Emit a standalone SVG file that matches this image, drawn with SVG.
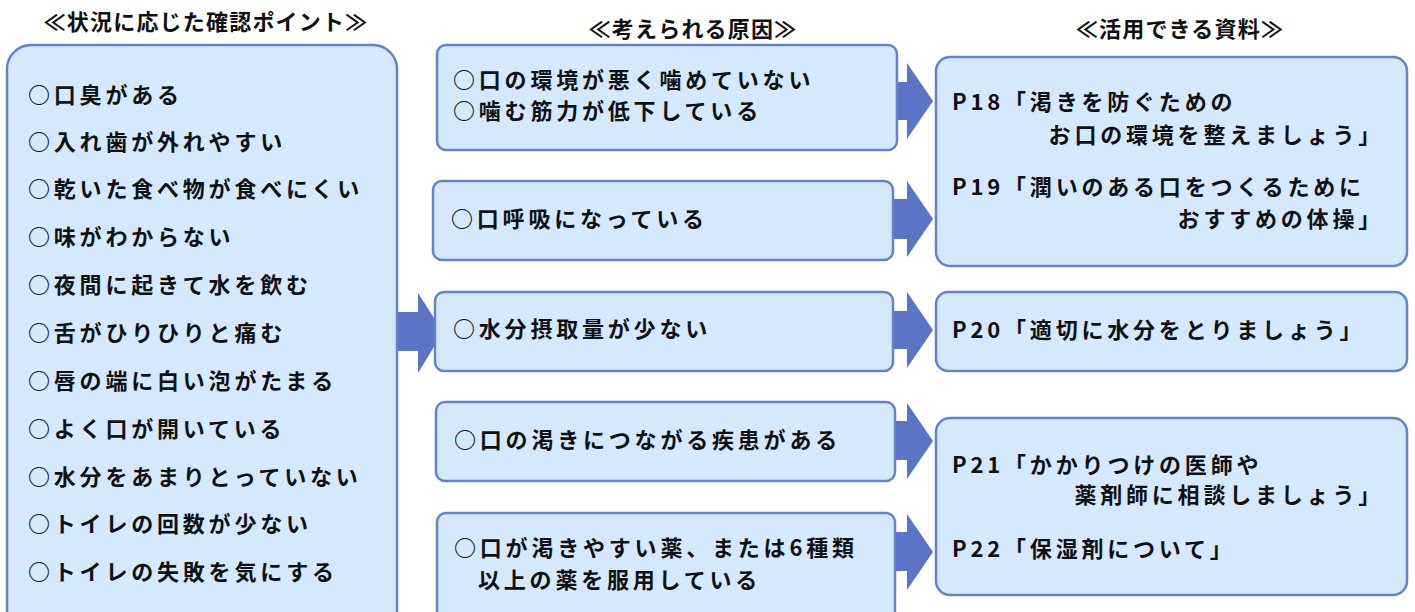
<svg xmlns="http://www.w3.org/2000/svg" width="1415" height="612" viewBox="0 0 1415 612">
<style>
.box{fill:#d6e8fc;stroke:#6682cb;stroke-width:2.5}
.arr{fill:#5a74c6}
text{font-family:"Noto Sans CJK JP","Noto Sans",sans-serif;font-weight:700;font-size:22px;fill:#111;letter-spacing:3.8px}
.hd{text-anchor:middle;letter-spacing:1.2px}
.r{text-anchor:end}
</style>
<rect width="1415" height="612" fill="#ffffff"/>
<g id="headers">
<text class="hd" x="206" y="30">≪状況に応じた確認ポイント≫</text>
<text class="hd" x="693" y="37">≪考えられる原因≫</text>
<text class="hd" x="1180" y="37">≪活用できる資料≫</text>
</g>
<g id="connectors">
<path class="arr" d="M392 312H418V293L443 332L418 373V351H392Z"/>
<path class="arr" d="M881 82H907V63L933 101L907 139V120H881Z"/>
<path class="arr" d="M881 199H907V181L933 219L907 257V239H881Z"/>
<path class="arr" d="M881 311H907V292L933 330L907 368V349H881Z"/>
<path class="arr" d="M881 421H907V403L933 441L907 479V460H881Z"/>
<path class="arr" d="M881 532H907V514L933 552L907 590V571H881Z"/>
</g>
<g id="checkpoints">
<rect class="box" x="7" y="45" width="390" height="600" rx="24"/>
<text x="28" y="103">○口臭がある</text>
<text x="28" y="150">○入れ歯が外れやすい</text>
<text x="28" y="197">○乾いた食べ物が食べにくい</text>
<text x="28" y="245">○味がわからない</text>
<text x="28" y="293">○夜間に起きて水を飲む</text>
<text x="28" y="341">○舌がひりひりと痛む</text>
<text x="28" y="389">○唇の端に白い泡がたまる</text>
<text x="28" y="437">○よく口が開いている</text>
<text x="28" y="485">○水分をあまりとっていない</text>
<text x="28" y="532">○トイレの回数が少ない</text>
<text x="28" y="580">○トイレの失敗を気にする</text>
</g>
<g id="cause1">
<rect class="box" x="437" y="45" width="460" height="105" rx="9"/>
<text x="453" y="88">○口の環境が悪く噛めていない</text>
<text x="453" y="119">○噛む筋力が低下している</text>
</g>
<g id="cause2">
<rect class="box" x="433" y="181" width="460" height="79" rx="9"/>
<text x="451" y="227">○口呼吸になっている</text>
</g>
<g id="cause3">
<rect class="box" x="435" y="292" width="458" height="79" rx="9"/>
<text x="453" y="337">○水分摂取量が少ない</text>
</g>
<g id="cause4">
<rect class="box" x="436" y="402" width="459" height="79" rx="9"/>
<text x="454" y="448">○口の渇きにつながる疾患がある</text>
</g>
<g id="cause5">
<rect class="box" x="437" y="513" width="458" height="130" rx="9"/>
<text x="454" y="556">○口が渇きやすい薬、または6種類</text>
<text x="478" y="588">以上の薬を服用している</text>
</g>
<g id="resource1">
<rect class="box" x="936" y="57" width="471" height="209" rx="14"/>
<text x="952" y="110">P18「渇きを防ぐための</text>
<text class="r" x="1384" y="143">お口の環境を整えましょう」</text>
<text x="952" y="195">P19「潤いのある口をつくるために</text>
<text class="r" x="1384" y="227">おすすめの体操」</text>
</g>
<g id="resource2">
<rect class="box" x="936" y="292" width="471" height="79" rx="12"/>
<text x="952" y="338">P20「適切に水分をとりましょう」</text>
</g>
<g id="resource3">
<rect class="box" x="936" y="418" width="471" height="177" rx="14"/>
<text x="952" y="473">P21「かかりつけの医師や</text>
<text class="r" x="1384" y="503">薬剤師に相談しましょう」</text>
<text x="952" y="557">P22「保湿剤について」</text>
</g>
</svg>
